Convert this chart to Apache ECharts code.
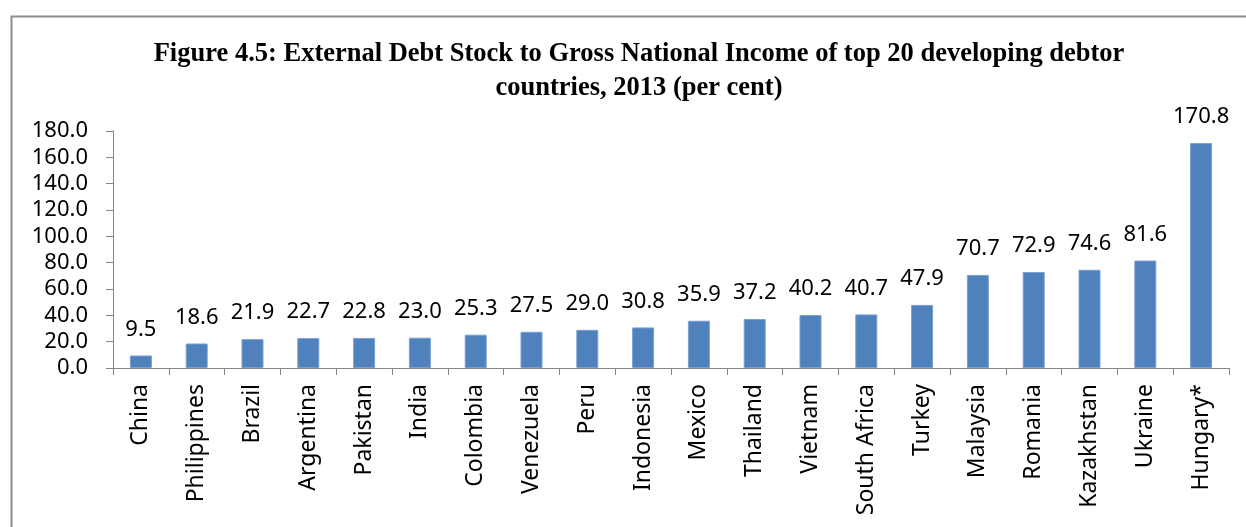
<!DOCTYPE html>
<html>
<head>
<meta charset="utf-8">
<script src="https://cdn.jsdelivr.net/npm/echarts@6/dist/echarts.min.js"></script>
<style>
  html, body { margin: 0; padding: 0; background: #fff; }
  #chart { width: 1246px; height: 527px; }
</style>
</head>
<body>
<div id="chart"></div>
<script>
// Countries ordered by external debt stock to GNI, 2013
const countries = ['China', 'Philippines', 'Brazil', 'Argentina', 'Pakistan', 'India', 'Colombia',
  'Venezuela', 'Peru', 'Indonesia', 'Mexico', 'Thailand', 'Vietnam', 'South Africa', 'Turkey',
  'Malaysia', 'Romania', 'Kazakhstan', 'Ukraine', 'Hungary*'];
// Debt stock as per cent of GNI
const debtToGni = [9.5, 18.6, 21.9, 22.7, 22.8, 23.0, 25.3, 27.5, 29.0, 30.8, 35.9, 37.2,
  40.2, 40.7, 47.9, 70.7, 72.9, 74.6, 81.6, 170.8];
// Value axis range
const yMin = 0, yMax = 180, yStep = 20;

const titleLines = [
  'Figure 4.5: External Debt Stock to Gross National Income of top 20 developing debtor',
  'countries, 2013 (per cent)'
];

const labelFont = 'Noto Sans';
const chart = echarts.init(document.getElementById('chart'), null, { renderer: 'canvas' });

chart.setOption({
  animation: false,
  backgroundColor: '#ffffff',
  title: {
    text: titleLines.join('\n'),
    left: 634,
    textAlign: 'center',
    top: 32,
    textStyle: {
      fontFamily: 'Liberation Serif',
      fontWeight: 'bold',
      fontSize: 26.5,
      lineHeight: 34,
      color: '#000'
    }
  },
  graphic: [{
    type: 'rect',
    shape: { x: 11.5, y: 16.5, width: 1260, height: 600 },
    style: { fill: 'none', stroke: '#8c8c8c', lineWidth: 2 },
    silent: true,
    z: 0
  }],
  grid: { left: 113, right: 17, top: 131, bottom: 159, containLabel: false },
  xAxis: {
    type: 'category',
    data: countries,
    axisLine: { show: true, lineStyle: { color: '#868686', width: 1 } },
    axisTick: { show: true, alignWithLabel: false, length: 7, lineStyle: { color: '#868686' } },
    axisLabel: {
      interval: 0,
      rotate: 90,
      margin: 16,
      fontFamily: labelFont,
      fontSize: 23,
      color: '#000'
    },
    splitLine: { show: false }
  },
  yAxis: {
    type: 'value',
    min: yMin,
    max: yMax,
    interval: yStep,
    axisLine: { show: true, lineStyle: { color: '#868686', width: 1 } },
    axisTick: { show: true, length: 7, lineStyle: { color: '#868686' } },
    axisLabel: {
      margin: 25,
      fontFamily: labelFont,
      fontSize: 22,
      color: '#000',
      formatter: v => v.toFixed(1)
    },
    splitLine: { show: false }
  },
  series: [{
    type: 'bar',
    data: debtToGni,
    barWidth: 22,
    itemStyle: { color: '#4f81bd', borderColor: '#7a9fd1', borderWidth: 1 },
    label: {
      show: true,
      position: 'top',
      distance: 15,
      fontFamily: labelFont,
      fontSize: 22,
      color: '#000',
      formatter: p => p.value.toFixed(1)
    }
  }]
});
</script>
</body>
</html>
